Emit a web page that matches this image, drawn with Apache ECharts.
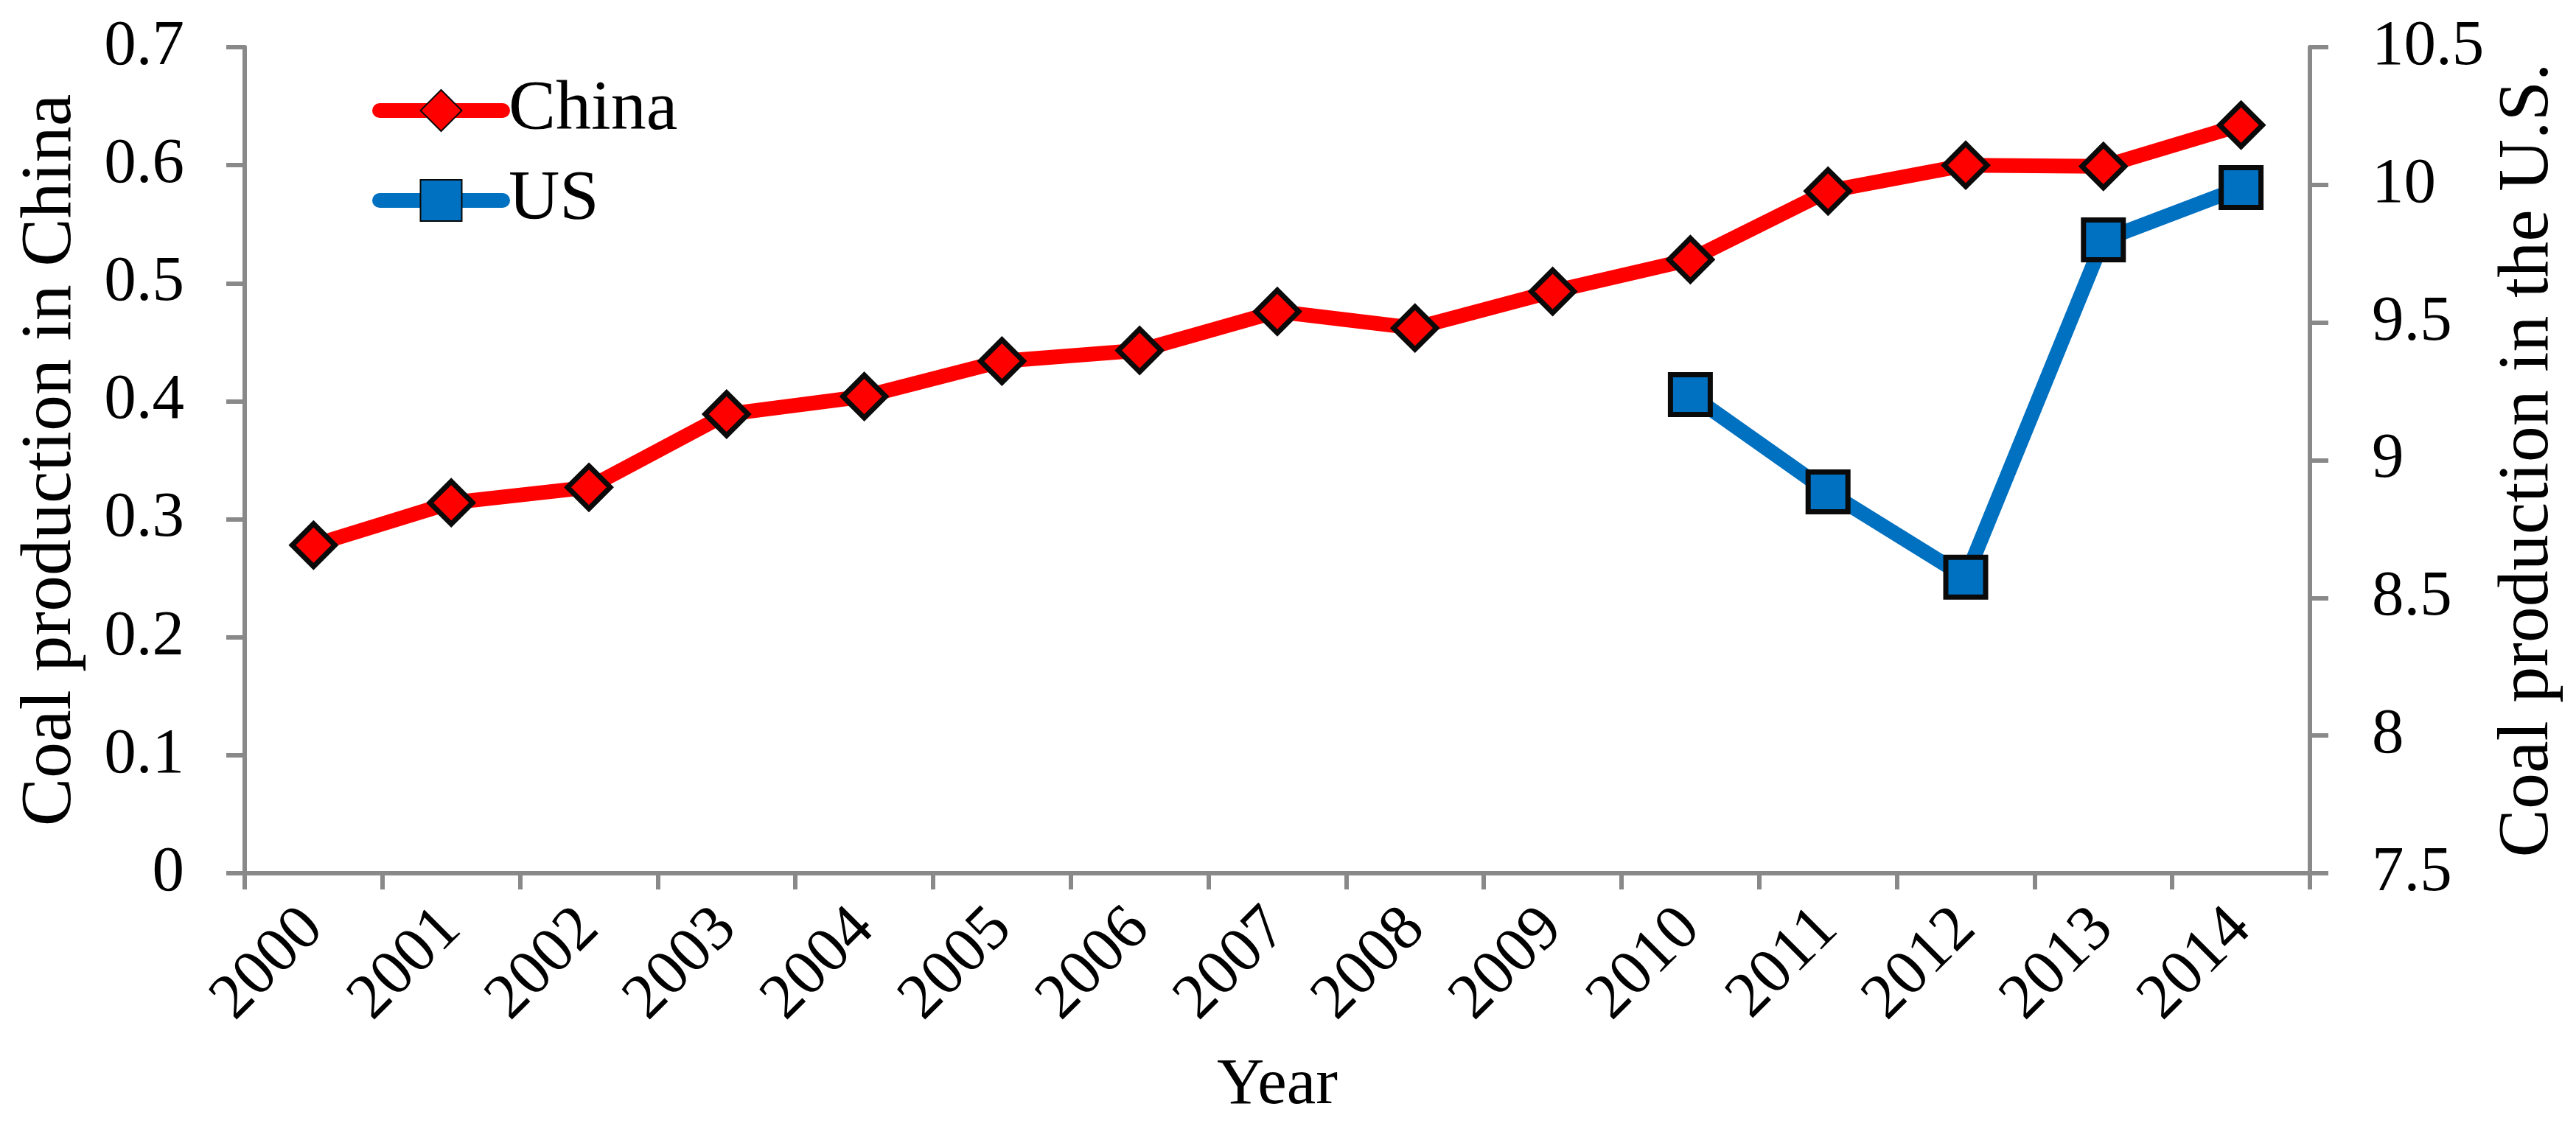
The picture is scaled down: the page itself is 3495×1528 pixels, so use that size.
<!DOCTYPE html>
<html>
<head>
<meta charset="utf-8">
<title>Coal production</title>
<script src="https://cdn.jsdelivr.net/npm/echarts@6/dist/echarts.min.js"></script>
<style>
  html, body { margin: 0; padding: 0; background: #fff; }
  #chart { width: 3495px; height: 1528px; }
</style>
</head>
<body>
<div id="chart"></div>
<script>
// data
var years = ['2000', '2001', '2002', '2003', '2004', '2005', '2006', '2007',
             '2008', '2009', '2010', '2011', '2012', '2013', '2014'];
var chinaValues = [0.278, 0.314, 0.327, 0.389, 0.404, 0.434, 0.443, 0.476,
                   0.462, 0.493, 0.520, 0.578, 0.600, 0.599, 0.634];
var usValues = [null, null, null, null, null, null, null, null,
                null, null, 9.238, 8.885, 8.575, 9.80, 9.99];
var leftTicks = { min: 0, max: 0.7, interval: 0.1 };
var rightTicks = { min: 7.5, max: 10.5, interval: 0.5 };

(function () {
  var font = '"Liberation Serif", "Times New Roman", serif';
  var axisGray = '#898989';
  var tickFs = 87;
  var titleFs = 98;

  function yAxis(t, pos, name, gap, labelAlign, margin) {
    return {
      type: 'value',
      position: pos,
      min: t.min, max: t.max, interval: t.interval,
      name: name,
      nameLocation: 'middle',
      nameGap: gap,
      nameRotate: 90,
      nameTextStyle: { fontFamily: font, fontSize: titleFs, color: '#000' },
      axisLine: { show: true, lineStyle: { color: axisGray, width: 6 } },
      axisTick: { show: true, inside: false, length: 25, lineStyle: { color: axisGray, width: 6 } },
      axisLabel: { fontFamily: font, fontSize: tickFs, color: '#000', margin: margin, align: labelAlign },
      splitLine: { show: false }
    };
  }

  var chart = echarts.init(document.getElementById('chart'), null, { renderer: 'canvas' });
  chart.setOption({
    animation: false,
    backgroundColor: '#fff',
    grid: { left: 332, right: 361, top: 64, bottom: 343, outerBoundsMode: 'none' },
    legend: {
      left: 500, top: 97, orient: 'vertical',
      itemWidth: 167, itemHeight: 70, itemGap: 26,
      lineStyle: { width: 20, cap: 'round' },
      textStyle: { fontFamily: font, fontSize: 96, color: '#000', padding: [0, 0, 0, 3] },
      data: ['China', 'US']
    },
    xAxis: {
      type: 'category',
      data: years,
      boundaryGap: true,
      name: 'Year',
      nameLocation: 'middle',
      nameGap: 244,
      nameTextStyle: { fontFamily: font, fontSize: 89, color: '#000' },
      axisLine: { lineStyle: { color: axisGray, width: 6 } },
      axisTick: { show: true, length: 22, lineStyle: { color: axisGray, width: 6 } },
      axisLabel: { fontFamily: font, fontSize: tickFs, color: '#000', rotate: 45, margin: 62, interval: 0 }
    },
    yAxis: [
      yAxis(leftTicks, 'left', 'Coal production in China', 214, 'right', 82),
      yAxis(rightTicks, 'right', 'Coal production in the U.S.', 232, 'left', 84)
    ],
    series: [
      {
        name: 'China', type: 'line', yAxisIndex: 0,
        data: chinaValues,
        symbol: 'diamond', symbolSize: 58,
        lineStyle: { color: '#ff0000', width: 20 },
        itemStyle: { color: '#ff0000', borderColor: '#0a0a0a', borderWidth: 7 },
        z: 3
      },
      {
        name: 'US', type: 'line', yAxisIndex: 1,
        data: usValues,
        connectNulls: false,
        symbol: 'rect', symbolSize: 54,
        lineStyle: { color: '#0070c0', width: 20 },
        itemStyle: { color: '#0070c0', borderColor: '#0a0a0a', borderWidth: 7 },
        z: 2
      }
    ]
  });
})();
</script>
</body>
</html>
